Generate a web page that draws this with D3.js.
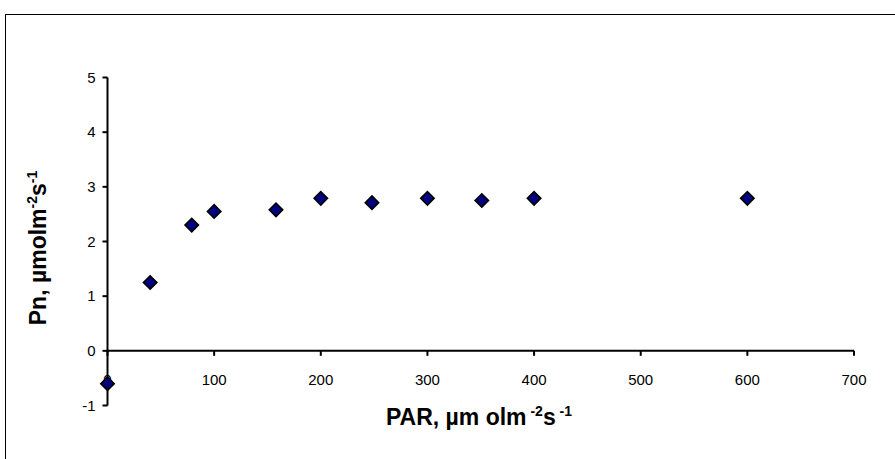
<!DOCTYPE html>
<html>
<head>
<meta charset="utf-8">
<script src="https://cdn.jsdelivr.net/npm/d3@7/dist/d3.min.js"></script>
<style>
  html, body { margin: 0; padding: 0; background: #fff; }
  svg { display: block; }
  text { font-family: "Liberation Sans", Arial, sans-serif; fill: #000; }
</style>
</head>
<body>
<svg id="chart" width="895" height="459"></svg>
<script>
const parValues = [0, 40, 79, 100, 158, 200, 248, 300, 351, 400, 600];
const pnValues  = [-0.6, 1.25, 2.3, 2.55, 2.58, 2.79, 2.71, 2.79, 2.75, 2.79, 2.79];
const xTicks = [0, 100, 200, 300, 400, 500, 600, 700];
const yTicks = [-1, 0, 1, 2, 3, 4, 5];

const svg = d3.select("#chart");

// outer chart border (extends beyond visible area)
svg.append("rect")
  .attr("x", 5.5).attr("y", 14.5)
  .attr("width", 1000).attr("height", 1000)
  .attr("fill", "#fff").attr("stroke", "#000").attr("stroke-width", 1);

const x = d3.scaleLinear().domain([0, 700]).range([107.5, 854]);
const y = d3.scaleLinear().domain([-1, 5]).range([405.5, 77.5]);

// X axis at y = 0, labels below
const xAxis = svg.append("g").attr("transform", `translate(0,${y(0)})`);
xAxis.append("line").attr("x1", x(0)).attr("x2", x(700))
  .attr("stroke", "#000").attr("stroke-width", 2);
xAxis.selectAll("line.t").data(xTicks).enter().append("line")
  .attr("class", "t")
  .attr("x1", d => x(d)).attr("x2", d => x(d))
  .attr("y1", 0).attr("y2", 5)
  .attr("stroke", "#000").attr("stroke-width", 2);
svg.append("g").selectAll("text").data(xTicks).enter().append("text")
  .attr("x", d => x(d)).attr("y", 385)
  .attr("text-anchor", "middle")
  .attr("font-size", 15)
  .text(d => d);

// Y axis at x = 0
const yAxis = svg.append("g").attr("transform", `translate(${x(0)},0)`);
yAxis.append("line").attr("y1", y(-1)).attr("y2", y(5))
  .attr("stroke", "#000").attr("stroke-width", 2);
yAxis.selectAll("line.t").data(yTicks).enter().append("line")
  .attr("class", "t")
  .attr("y1", d => y(d)).attr("y2", d => y(d))
  .attr("x1", -5).attr("x2", 0)
  .attr("stroke", "#000").attr("stroke-width", 2);
yAxis.selectAll("text").data(yTicks).enter().append("text")
  .attr("x", -12).attr("y", d => y(d))
  .attr("dy", "0.35em")
  .attr("text-anchor", "end")
  .attr("font-size", 15)
  .text(d => d);

// points (diamonds)
const diamond = d3.symbol().type(d3.symbolSquare).size(90);
svg.append("g").selectAll("path").data(parValues.map((v, i) => [v, pnValues[i]]))
  .enter().append("path")
  .attr("d", diamond)
  .attr("transform", d => `translate(${x(d[0])},${y(d[1])}) rotate(45)`)
  .attr("fill", "#000080")
  .attr("stroke", "#000")
  .attr("stroke-width", 1.6);

// X title
const xt = svg.append("text")
  .attr("x", 479).attr("y", 425)
  .attr("text-anchor", "middle")
  .attr("font-size", 23).attr("font-weight", "bold");
xt.append("tspan").text("PAR, µm olm");
xt.append("tspan").attr("font-size", 14).attr("dy", -9).text(" -2");
xt.append("tspan").attr("dy", 9).text("s");
xt.append("tspan").attr("font-size", 14).attr("dy", -9).text(" -1");

// Y title
const yt = svg.append("text")
  .attr("transform", "translate(46,248) rotate(-90)")
  .attr("text-anchor", "middle")
  .attr("font-size", 23).attr("font-weight", "bold");
yt.append("tspan").text("Pn, µmolm");
yt.append("tspan").attr("font-size", 14).attr("dy", -9).text("-2");
yt.append("tspan").attr("dy", 9).text("s");
yt.append("tspan").attr("font-size", 14).attr("dy", -9).text("-1");
</script>
</body>
</html>
